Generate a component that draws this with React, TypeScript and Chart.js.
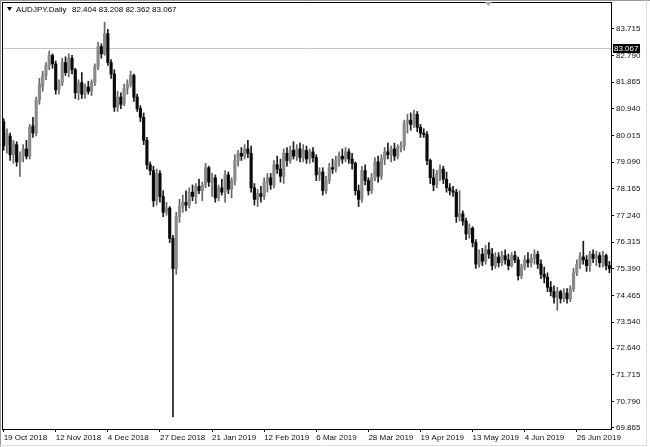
import { useEffect, useRef } from "react";
import { Chart, registerables } from "chart.js";

Chart.register(...registerables);

const symbolTitle = "AUDJPY.Daily";
const headerOHLC = [82.404, 83.208, 82.362, 83.067];
const currentPrice = 83.067;

const tickLabels = [
  "19 Oct 2018", "12 Nov 2018", "4 Dec 2018", "27 Dec 2018", "21 Jan 2019", "12 Feb 2019",
  "6 Mar 2019", "28 Mar 2019", "19 Apr 2019", "13 May 2019", "4 Jun 2019", "26 Jun 2019",
];
const tickEvery = 16;

const yTickValues = [
  69.865, 70.79, 71.715, 72.64, 73.54, 74.465, 75.39, 76.315, 77.24, 78.165, 79.09, 80.015,
  80.94, 81.865, 82.79, 83.715,
];
const yMin = 69.83;
const yMax = 84.65;

const opens = [
  80.50, 79.70, 80.00, 79.35, 79.70, 79.10, 79.30, 79.55, 79.30, 80.35,
  80.10, 81.25, 81.70, 82.10, 82.45, 82.80, 82.50, 81.60, 81.85, 82.55,
  82.20, 82.70, 82.30, 81.50, 81.85, 81.45, 81.70, 81.55, 81.85, 82.40,
  83.10, 82.85, 83.55, 82.55, 82.15, 81.00, 81.35, 81.10, 81.65, 81.80,
  82.10, 81.35, 80.95, 80.65, 79.85, 79.00, 78.80, 77.75, 78.70, 77.90,
  77.35, 77.50, 76.45, 75.40, 77.20, 77.55, 77.70, 77.60, 78.05, 77.90,
  78.25, 78.10, 78.30, 78.90, 78.40, 78.55, 77.85, 78.20, 78.05, 78.65,
  78.15, 78.45, 79.15, 79.40, 79.30, 79.55, 79.40, 78.20, 77.80, 78.00,
  77.90, 78.40, 78.55, 78.30, 79.00, 78.85, 78.60, 79.40, 79.15, 79.50,
  79.30, 79.55, 79.25, 79.50, 79.20, 79.45, 79.25, 78.65, 78.75, 78.10,
  78.45, 78.90, 78.85, 79.15, 79.30, 79.20, 79.45, 79.20, 79.05, 78.10,
  77.80, 78.80, 78.45, 78.10, 78.55, 79.10, 78.60, 79.20, 79.45, 79.35,
  79.55, 79.30, 79.60, 79.65, 80.45, 80.55, 80.40, 80.75, 80.30, 80.10,
  80.05, 79.15, 78.55, 78.30, 78.70, 78.85, 78.50, 78.20, 78.10, 78.05,
  77.20, 77.30, 77.05, 76.60, 76.80, 76.30, 75.55, 75.90, 75.65, 76.05,
  75.90, 75.50, 75.80, 75.60, 75.85, 75.70, 75.50, 75.85, 75.70, 75.15,
  75.45, 75.70, 75.60, 75.75, 75.90, 75.55, 75.20, 75.10, 74.75, 74.60,
  74.40, 74.60, 74.35, 74.55, 74.35, 74.70, 75.25, 75.55, 75.80, 75.70,
  75.50, 75.90, 75.75, 75.85, 75.60, 75.85, 75.50,
];
const highs = [
  80.60, 80.25, 80.10, 79.85, 79.80, 79.45, 79.70, 79.85, 80.40, 80.65,
  81.35, 82.00, 82.25, 82.55, 82.95, 82.85, 82.60, 81.95, 82.70, 82.75,
  82.85, 82.80, 82.35, 81.95, 82.20, 81.80, 81.90, 81.95, 82.50, 83.25,
  83.20, 83.95, 83.70, 82.65, 82.30, 81.55, 81.50, 81.80, 81.95, 82.25,
  82.15, 81.45, 81.05, 80.80, 79.95, 79.10, 78.95, 78.85, 78.80, 78.10,
  77.70, 77.55, 76.55, 77.35, 77.80, 77.95, 78.10, 78.20, 78.30, 78.35,
  78.50, 78.40, 79.05, 78.95, 78.70, 78.65, 78.30, 78.50, 78.80, 78.75,
  78.55, 79.35, 79.50, 79.60, 79.70, 79.85, 79.65, 78.35, 78.15, 78.25,
  78.55, 78.70, 78.70, 79.15, 79.30, 79.20, 79.55, 79.60, 79.65, 79.80,
  79.70, 79.75, 79.70, 79.65, 79.55, 79.60, 79.35, 78.90, 78.90, 78.60,
  79.05, 79.20, 79.30, 79.45, 79.55, 79.60, 79.55, 79.40, 79.10, 78.30,
  78.95, 79.00, 78.55, 78.70, 79.25, 79.30, 79.35, 79.60, 79.75, 79.65,
  79.75, 79.70, 79.80, 80.55, 80.75, 80.80, 80.90, 80.85, 80.40, 80.25,
  80.15, 79.20, 78.85, 78.80, 79.00, 78.95, 78.75, 78.35, 78.25, 78.15,
  78.10, 77.40, 77.15, 76.95, 76.85, 76.40, 76.05, 76.10, 76.20, 76.30,
  76.10, 75.95, 75.95, 76.00, 76.05, 75.90, 75.95, 76.00, 75.80, 75.55,
  75.85, 75.95, 75.90, 76.05, 76.00, 75.70, 75.45, 75.25, 74.95, 74.80,
  74.75, 74.65, 74.70, 74.70, 74.80, 75.40, 75.70, 75.95, 76.35, 75.85,
  76.00, 76.05, 76.00, 75.95, 76.00, 75.90, 75.65,
];
const lows = [
  79.50, 79.40, 79.15, 79.05, 78.95, 78.60, 79.10, 79.20, 79.20, 79.95,
  80.00, 81.10, 81.55, 81.95, 82.30, 82.35, 81.45, 81.45, 81.75, 82.10,
  82.05, 82.15, 81.30, 81.25, 81.30, 81.30, 81.45, 81.40, 81.75, 82.30,
  82.70, 82.80, 82.45, 82.00, 80.85, 80.85, 80.95, 81.05, 81.45, 81.70,
  81.20, 80.85, 80.50, 79.70, 78.85, 78.65, 77.55, 77.60, 77.70, 77.20,
  77.25, 76.30, 70.25, 75.20, 77.00, 77.35, 77.40, 77.50, 77.75, 77.65,
  78.00, 77.75, 78.20, 78.25, 77.90, 77.70, 77.75, 77.95, 77.70, 78.00,
  77.85, 78.30, 78.95, 79.15, 79.20, 79.25, 78.05, 77.60, 77.55, 77.70,
  77.80, 78.05, 78.15, 78.20, 78.70, 78.40, 78.35, 78.95, 79.05, 79.20,
  79.15, 79.10, 79.10, 79.05, 79.05, 79.10, 78.45, 78.45, 77.95, 78.00,
  78.35, 78.70, 78.75, 78.95, 79.05, 79.10, 79.05, 78.85, 77.95, 77.55,
  77.70, 78.30, 77.95, 78.00, 78.45, 78.40, 78.50, 79.00, 79.20, 79.10,
  79.15, 79.20, 79.45, 79.50, 80.10, 80.20, 80.30, 80.15, 79.95, 79.95,
  79.00, 78.35, 78.10, 78.20, 78.45, 78.35, 78.05, 77.95, 77.90, 77.00,
  77.05, 76.90, 76.40, 76.45, 76.15, 75.40, 75.45, 75.50, 75.55, 75.75,
  75.35, 75.40, 75.45, 75.50, 75.55, 75.35, 75.45, 75.60, 75.00, 75.05,
  75.35, 75.45, 75.45, 75.55, 75.40, 75.05, 74.90, 74.60, 74.45, 74.20,
  73.95, 74.20, 74.25, 74.20, 74.25, 74.60, 75.15, 75.40, 75.55, 75.30,
  75.30, 75.60, 75.50, 75.45, 75.45, 75.35, 75.25,
];
const closes = [
  79.65, 80.10, 79.35, 79.75, 79.10, 79.30, 79.55, 79.30, 80.30, 80.10,
  81.25, 81.80, 82.10, 82.45, 82.80, 82.50, 81.60, 81.85, 82.55, 82.20,
  82.70, 82.30, 81.50, 81.85, 81.45, 81.70, 81.55, 81.85, 82.40, 83.10,
  82.85, 83.55, 82.55, 82.15, 81.00, 81.35, 81.10, 81.65, 81.80, 82.10,
  81.35, 80.95, 80.65, 79.85, 79.00, 78.80, 77.75, 78.70, 77.90, 77.35,
  77.50, 76.45, 75.40, 77.20, 77.55, 77.70, 77.60, 78.05, 77.90, 78.25,
  78.10, 78.30, 78.90, 78.40, 78.55, 77.85, 78.20, 78.05, 78.65, 78.15,
  78.45, 79.15, 79.40, 79.30, 79.55, 79.40, 78.20, 77.80, 78.00, 77.90,
  78.40, 78.55, 78.30, 79.00, 78.85, 78.60, 79.40, 79.15, 79.50, 79.30,
  79.55, 79.25, 79.50, 79.20, 79.45, 79.25, 78.65, 78.75, 78.10, 78.45,
  78.90, 78.85, 79.15, 79.30, 79.20, 79.45, 79.20, 79.05, 78.10, 77.80,
  78.80, 78.45, 78.10, 78.55, 79.10, 78.60, 79.20, 79.45, 79.35, 79.55,
  79.30, 79.60, 79.65, 80.45, 80.55, 80.40, 80.75, 80.30, 80.10, 80.05,
  79.15, 78.55, 78.30, 78.70, 78.85, 78.50, 78.20, 78.10, 78.05, 77.20,
  77.30, 77.05, 76.60, 76.80, 76.30, 75.55, 75.90, 75.65, 76.05, 75.90,
  75.50, 75.80, 75.60, 75.85, 75.70, 75.50, 75.85, 75.70, 75.15, 75.45,
  75.70, 75.60, 75.75, 75.90, 75.55, 75.20, 75.10, 74.75, 74.60, 74.40,
  74.60, 74.35, 74.55, 74.35, 74.70, 75.25, 75.55, 75.80, 75.70, 75.50,
  75.90, 75.75, 75.85, 75.60, 75.85, 75.50, 75.40,
];

const FONT = "'Liberation Sans', Arial, sans-serif";

const decorPlugin = {
  id: "decor",
  beforeDatasetsDraw(chart: any) {
    const { ctx, chartArea: a, scales } = chart;
    const y = Math.round(scales.y.getPixelForValue(currentPrice)) + 0.5;
    ctx.save();
    ctx.strokeStyle = "#c4c4c4";
    ctx.lineWidth = 1;
    ctx.beginPath();
    ctx.moveTo(a.left, y);
    ctx.lineTo(a.right, y);
    ctx.stroke();
    ctx.restore();
  },
  afterDraw(chart: any) {
    const { ctx, chartArea: a, scales, width, height } = chart;
    ctx.save();
    // plot frame (top, left)
    ctx.strokeStyle = "#000";
    ctx.lineWidth = 1;
    ctx.beginPath();
    ctx.moveTo(a.left, a.top + 0.5);
    ctx.lineTo(a.right, a.top + 0.5);
    ctx.moveTo(a.left + 0.5, a.top);
    ctx.lineTo(a.left + 0.5, a.bottom);
    ctx.stroke();
    // outer window edges
    ctx.strokeStyle = "#9a9a9a";
    ctx.beginPath();
    ctx.moveTo(0, 0.5);
    ctx.lineTo(width, 0.5);
    ctx.moveTo(0.5, 0);
    ctx.lineTo(0.5, height);
    ctx.stroke();
    ctx.strokeStyle = "#dcdcdc";
    ctx.beginPath();
    ctx.moveTo(646.5, 0);
    ctx.lineTo(646.5, 445);
    ctx.moveTo(0, 445.5);
    ctx.lineTo(647, 445.5);
    ctx.stroke();
    // header
    ctx.fillStyle = "#000";
    ctx.beginPath();
    ctx.moveTo(7, 7);
    ctx.lineTo(12, 7);
    ctx.lineTo(9.5, 11);
    ctx.closePath();
    ctx.fill();
    ctx.font = `8px ${FONT}`;
    ctx.textBaseline = "alphabetic";
    ctx.textAlign = "left";
    ctx.fillText(symbolTitle, 16, 12);
    ctx.fillText(headerOHLC.map((v) => v.toFixed(3)).join(" "), 72, 12);
    // chart shift marker
    ctx.fillStyle = "#a8a8a8";
    ctx.beginPath();
    ctx.moveTo(485, 2);
    ctx.lineTo(492, 2);
    ctx.lineTo(488.5, 6);
    ctx.closePath();
    ctx.fill();
    // current price label
    const py = scales.y.getPixelForValue(currentPrice);
    ctx.fillStyle = "#000";
    ctx.fillRect(a.right + 2, Math.round(py) - 4, 27, 9);
    ctx.fillStyle = "#fff";
    ctx.textBaseline = "middle";
    ctx.fillText(currentPrice.toFixed(3), a.right + 3, Math.round(py) + 0.5);
    ctx.restore();
  },
};

export default function App() {
  const ref = useRef<HTMLCanvasElement>(null);
  useEffect(() => {
    const labels = opens.map((_, i) => (i % tickEvery === 0 ? tickLabels[i / tickEvery] ?? "" : ""));
    const up = closes.map((c, i) => c >= opens[i]);
    const chart = new Chart(ref.current as HTMLCanvasElement, {
      type: "bar",
      data: {
        labels,
        datasets: [
          {
            label: "body",
            data: opens.map((o, i) => [o, closes[i]]) as any,
            backgroundColor: up.map((u) => (u ? "#8a8a8a" : "#0a0a0a")),
            barThickness: 2.5,
            grouped: false,
            order: 0,
            minBarLength: 1,
          } as any,
          {
            label: "wick",
            data: lows.map((l, i) => [l, highs[i]]) as any,
            backgroundColor: up.map((u) => (u ? "#666" : "#1a1a1a")),
            barThickness: 1,
            grouped: false,
            order: 1,
          } as any,
        ],
      },
      options: {
        animation: false,
        responsive: false,
        maintainAspectRatio: false,
        layout: { padding: { left: 2, top: 2, right: 0, bottom: 0 } },
        plugins: { legend: { display: false }, tooltip: { enabled: false } },
        scales: {
          x: {
            type: "category",
            offset: true,
            grid: {
              offset: false,
              drawOnChartArea: false,
              drawTicks: true,
              tickLength: 3,
              color: (c: any) => (c.index % tickEvery === 0 ? "#000" : "rgba(0,0,0,0)"),
            },
            border: { display: true, color: "#000" },
            ticks: {
              autoSkip: false,
              maxRotation: 0,
              minRotation: 0,
              align: "start",
              padding: 1,
              color: "#111",
              font: { family: FONT, size: 8 },
            },
            afterFit: (s: any) => {
              s.height = 18;
              s.paddingLeft = 0;
              s.paddingRight = 0;
            },
          } as any,
          y: {
            position: "right",
            min: yMin,
            max: yMax,
            afterBuildTicks: (s: any) => {
              s.ticks = yTickValues.map((v) => ({ value: v }));
            },
            ticks: {
              callback: (v: any) => Number(v).toFixed(3),
              color: "#111",
              padding: 2,
              font: { family: FONT, size: 8 },
            },
            grid: { drawOnChartArea: false, tickLength: 3, color: "#000" },
            border: { display: true, color: "#000" },
            afterFit: (s: any) => {
              s.width = 39;
              s.paddingTop = 0;
              s.paddingBottom = 0;
            },
          } as any,
        },
      },
      plugins: [decorPlugin],
    });
    return () => chart.destroy();
  }, []);
  return (
    <div style={{ position: "fixed", left: 0, top: 0, width: 650, height: 447, background: "#fff" }}>
      <canvas ref={ref} width={650} height={447} style={{ display: "block" }} />
    </div>
  );
}
